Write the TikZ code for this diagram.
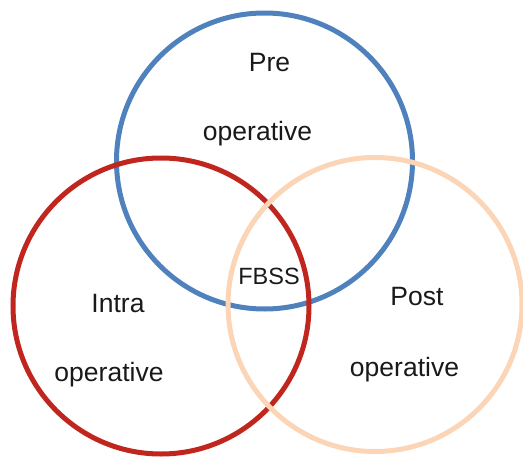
\documentclass[tikz,border=0pt]{standalone}
\usepackage{fontspec}
\setmainfont{Liberation Sans}
\definecolor{cblue}{RGB}{79,129,189}
\definecolor{cred}{RGB}{192,38,30}
\definecolor{cpeach}{RGB}{251,213,181}
\begin{document}
\begin{tikzpicture}[x=1pt,y=-1pt,
  ring/.style={line width=5pt},
  lbl/.style={anchor=base,inner sep=0pt,font=\fontsize{26.5}{30}\selectfont,text=black!90}]
\useasboundingbox (0,0) rectangle (523,458);
\draw[ring,cblue] (264.5,161) circle (148);
\draw[ring,cred] (161,306) circle (148);
\draw[ring,cpeach] (375,304.5) circle (147);
\node[lbl] (pre) at (269.5,71) {Pre};
\node[lbl] (preop) at (257.5,140) {operative};
\node[lbl,font=\fontsize{23.5}{28}\selectfont] (fbss) at (269,284) {FBSS};
\node[lbl] (intra) at (118,312) {Intra};
\node[lbl] (intraop) at (109,381) {operative};
\node[lbl] (post) at (417,305) {Post};
\node[lbl] (postop) at (404.5,376) {operative};
\end{tikzpicture}
\end{document}
